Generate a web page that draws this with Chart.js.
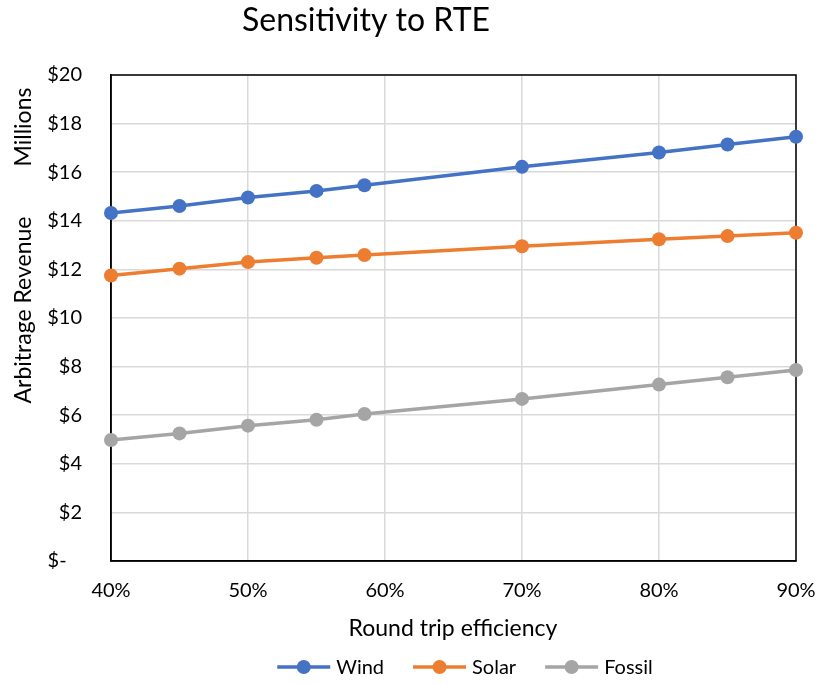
<!DOCTYPE html>
<html>
<head>
<meta charset="utf-8">
<script src="https://cdn.jsdelivr.net/npm/chart.js@4/dist/chart.umd.min.js"></script>
<style>
  body { margin: 0; background: #fff; }
  #wrap { width: 819px; height: 684px; }
</style>
</head>
<body>
<div id="wrap"><canvas id="rte" width="819" height="684"></canvas></div>
<script>
// round trip efficiency (%) and arbitrage revenue ($ millions)
const rte = [40, 45, 50, 55, 58.5, 70, 80, 85, 90];
const wind = [14.32, 14.61, 14.96, 15.23, 15.46, 16.22, 16.81, 17.14, 17.46];
const solar = [11.75, 12.03, 12.30, 12.48, 12.59, 12.95, 13.24, 13.37, 13.51];
const fossil = [4.98, 5.25, 5.57, 5.81, 6.05, 6.67, 7.26, 7.56, 7.86];
const seriesNames = ['Wind', 'Solar', 'Fossil'];
const seriesColors = ['#4472C4', '#ED7D31', '#A5A5A5'];

const FONT = "Lato, 'Liberation Sans', sans-serif";

function pts(vals) {
    return rte.map((x, i) => ({x: x, y: vals[i]}));
}

function makeSet(name, vals, color) {
    return {
        label: name,
        data: pts(vals),
        borderColor: color,
        backgroundColor: color,
        borderWidth: 3.5,
        pointRadius: 7,
        pointHoverRadius: 7,
        pointBorderWidth: 0,
        tension: 0,
        clip: false
    };
}

// text around the plot + outer frame + legend, drawn by hand
const decorations = {
    id: 'decorations',
    beforeDatasetsDraw(chart) {
        const ctx = chart.ctx;
        const a = chart.chartArea;
        ctx.save();
        ctx.strokeStyle = '#000';
        ctx.lineWidth = 1.5;
        ctx.strokeRect(a.left, a.top, a.right - a.left, a.bottom - a.top);
        ctx.restore();
    },
    afterDraw(chart) {
        const ctx = chart.ctx;
        ctx.save();
        ctx.fillStyle = '#000';

        // title
        ctx.font = '32px ' + FONT;
        ctx.textAlign = 'center';
        ctx.textBaseline = 'alphabetic';
        ctx.fillText('Sensitivity to RTE', 366, 31);

        // x axis title
        ctx.font = '23px ' + FONT;
        ctx.fillText('Round trip efficiency', 453, 636);

        // y axis titles
        ctx.save();
        ctx.translate(31, 127);
        ctx.rotate(-Math.PI / 2);
        ctx.fillText('Millions', 0, 0);
        ctx.restore();
        ctx.save();
        ctx.translate(31, 310);
        ctx.rotate(-Math.PI / 2);
        ctx.fillText('Arbitrage Revenue', 0, 0);
        ctx.restore();

        // legend
        ctx.font = '20px ' + FONT;
        ctx.textAlign = 'left';
        ctx.textBaseline = 'middle';
        const lineW = 53, gap = 6, itemGap = 29;
        const widths = chart.data.datasets.map(d => ctx.measureText(d.label).width);
        let total = 0;
        widths.forEach((w, i) => { total += lineW + gap + w + (i < widths.length - 1 ? itemGap : 0); });
        let x = 465 - total / 2;
        const y = 667;
        chart.data.datasets.forEach((d, i) => {
            ctx.strokeStyle = d.borderColor;
            ctx.lineWidth = 3.5;
            ctx.beginPath();
            ctx.moveTo(x, y);
            ctx.lineTo(x + lineW, y);
            ctx.stroke();
            ctx.fillStyle = d.borderColor;
            ctx.beginPath();
            ctx.arc(x + lineW / 2, y, 7, 0, Math.PI * 2);
            ctx.fill();
            ctx.fillStyle = '#000';
            ctx.fillText(d.label, x + lineW + gap, y + 1);
            x += lineW + gap + widths[i] + itemGap;
        });
        ctx.restore();
    }
};

new Chart(document.getElementById('rte'), {
    type: 'line',
    data: {
        datasets: [
            makeSet(seriesNames[0], wind, seriesColors[0]),
            makeSet(seriesNames[1], solar, seriesColors[1]),
            makeSet(seriesNames[2], fossil, seriesColors[2])
        ]
    },
    options: {
        responsive: false,
        animation: false,
        layout: {
            padding: {left: 0, top: 75, right: 23, bottom: 0}
        },
        plugins: {
            legend: {display: false},
            title: {display: false},
            tooltip: {enabled: false}
        },
        scales: {
            x: {
                type: 'linear',
                min: 40,
                max: 90,
                afterFit(scale) {
                    scale.height = 123;
                    scale.paddingLeft = 0;
                    scale.paddingRight = 0;
                },
                ticks: {
                    stepSize: 10,
                    padding: 18,
                    color: '#000',
                    font: {family: FONT, size: 20},
                    callback: v => v + '%'
                },
                grid: {color: '#d9d9d9', lineWidth: 1.5, drawTicks: false},
                border: {display: true, color: '#000', width: 1.5}
            },
            y: {
                min: 0,
                max: 20,
                afterFit(scale) {
                    scale.width = 111;
                    scale.paddingTop = 0;
                    scale.paddingBottom = 0;
                },
                ticks: {
                    stepSize: 2,
                    padding: 29,
                    color: '#000',
                    font: {family: FONT, size: 20},
                    callback: v => v === 0 ? '$-   ' : '$' + v
                },
                grid: {color: '#d9d9d9', lineWidth: 1.5, drawTicks: false},
                border: {display: true, color: '#000', width: 1.5}
            }
        }
    },
    plugins: [decorations]
});
</script>
</body>
</html>
